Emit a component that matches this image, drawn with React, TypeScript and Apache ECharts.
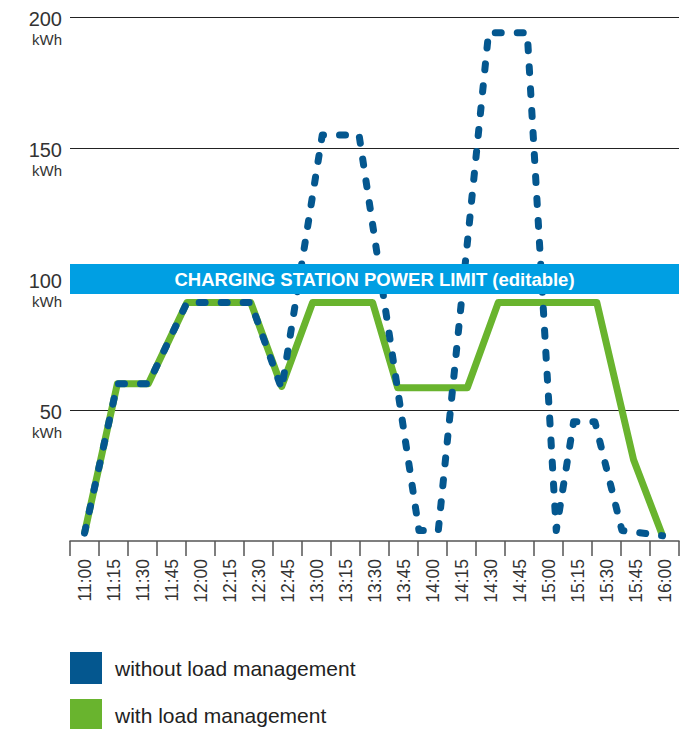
import React, { useEffect, useRef } from 'react';
import * as echarts from 'echarts';

// Category tick labels (15-minute slots)
const timeLabels = [
  '11:00', '11:15', '11:30', '11:45', '12:00', '12:15', '12:30', '12:45',
  '13:00', '13:15', '13:30', '13:45', '14:00', '14:15', '14:30', '14:45',
  '15:00', '15:15', '15:30', '15:45', '16:00',
];

// Series: time in minutes after 11:00, value in kWh
const withoutTimes = [0, 17, 33, 53, 86, 102, 123, 142, 173, 183, 209, 229, 244, 253, 264, 278, 299];
const withoutValues = [3, 60, 60, 91, 91, 58, 155, 155, 4, 4, 194, 194, 4, 45.5, 45.5, 4, 2];

const withTimes = [0, 17, 33, 53, 86, 102, 118, 149, 162, 198, 214, 265, 284, 299];
const withValues = [3, 60, 60, 91, 91, 59, 91, 91, 58.5, 58.5, 91, 91, 31, 2];

const seriesNames = ['without load management', 'with load management'];
const limitBand = [94.3, 105.7];
const limitLabel = 'CHARGING STATION POWER LIMIT (editable)';
const yUnit = 'kWh';

const BLUE = '#04578f';
const GREEN = '#69b42e';
const BAND = '#009fe3';
const FONT = "'Liberation Sans', Arial, Helvetica, sans-serif";

export default function App() {
  const ref = useRef<HTMLDivElement>(null);

  useEffect(() => {
    const chart = echarts.init(ref.current!, null, { renderer: 'svg' });
    const option: any = {
      animation: false,
      backgroundColor: '#ffffff',
      textStyle: { fontFamily: FONT },
      grid: { left: 70, right: 18, top: 17, bottom: 188, containLabel: false },
      legend: {
        orient: 'vertical',
        left: 70,
        top: 652,
        height: 120,
        padding: 0,
        itemWidth: 32,
        itemHeight: 32,
        itemGap: 15,
        icon: 'rect',
        data: seriesNames,
        textStyle: { fontSize: 21, color: '#222', padding: [0, 0, 0, 8], fontFamily: FONT },
        itemStyle: { borderWidth: 0 },
      },
      xAxis: [
        {
          type: 'category',
          data: timeLabels,
          boundaryGap: true,
          axisLine: { show: true, lineStyle: { color: '#555', width: 1.5 } },
          axisTick: { show: true, interval: 0, length: 15, alignWithLabel: false, lineStyle: { color: '#555', width: 1.5 } },
          axisLabel: { interval: 0, rotate: 90, margin: 18, fontSize: 17.5, color: '#333', fontFamily: FONT },
          splitLine: { show: false },
        },
        {
          type: 'value',
          min: -7.5,
          max: 307.5,
          show: false,
        },
      ],
      yAxis: {
        type: 'value',
        min: 0,
        max: 200,
        interval: 50,
        axisLine: { show: false },
        axisTick: { show: false },
        splitLine: {
          show: true,
          lineStyle: { color: ['rgba(0,0,0,0)', '#222', '#222', '#222', '#222'], width: 1 },
        },
        axisLabel: {
          margin: 8,
          padding: [24, 0, 0, 0],
          formatter: (v: number) => (v === 0 ? '' : `{a|${v}}\n{b|${yUnit}}`),
          rich: {
            a: { fontSize: 20, lineHeight: 20, color: '#333', align: 'right', fontFamily: FONT },
            b: { fontSize: 15, lineHeight: 20, color: '#333', align: 'right', fontFamily: FONT },
          },
        },
      },
      series: [
        {
          name: seriesNames[1],
          type: 'line',
          xAxisIndex: 1,
          data: withTimes.map((t, i) => [t, withValues[i]]),
          symbol: 'none',
          itemStyle: { color: GREEN },
          lineStyle: { color: GREEN, width: 7, join: 'round' },
          z: 2,
        },
        {
          name: seriesNames[0],
          type: 'line',
          xAxisIndex: 1,
          data: withoutTimes.map((t, i) => [t, withoutValues[i]]),
          symbol: 'none',
          itemStyle: { color: BLUE },
          lineStyle: { color: BLUE, width: 7, type: [6, 16], cap: 'round', join: 'round' },
          z: 3,
          markArea: {
            silent: true,
            z: 10,
            itemStyle: { color: BAND, opacity: 1 },
            label: {
              show: true,
              position: 'inside',
              color: '#fff',
              fontSize: 18.5,
              fontWeight: 'bold',
              fontFamily: FONT,
            },
            data: [[{ name: limitLabel, yAxis: limitBand[0] }, { yAxis: limitBand[1] }]],
          },
        },
      ],
    };
    chart.setOption(option);
    return () => chart.dispose();
  }, []);

  return (
    <div
      ref={ref}
      style={{ position: 'absolute', left: 0, top: 0, width: 697, height: 729, background: '#fff' }}
    />
  );
}
